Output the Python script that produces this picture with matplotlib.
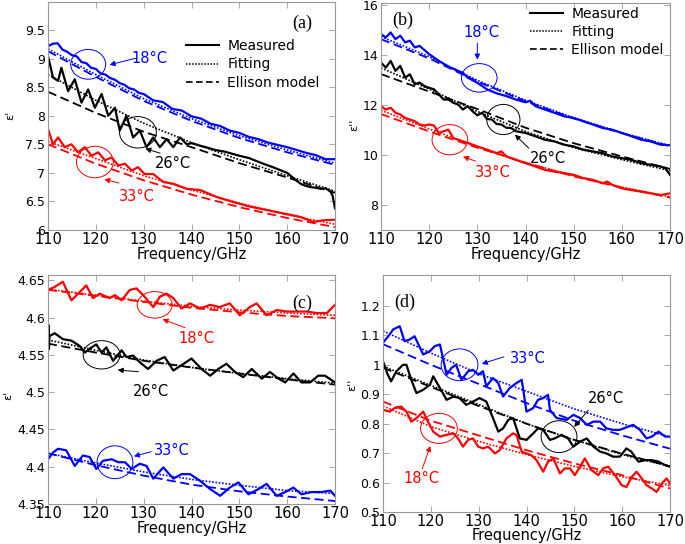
import matplotlib
matplotlib.use('Agg')
import matplotlib.pyplot as plt
from matplotlib.patches import Ellipse

BLUE = '#0000ff'
RED = '#ff0000'
BLACK = '#000000'

fit_freq = [110, 120, 130, 140, 150, 160, 170]
x_ticks = [110, 120, 130, 140, 150, 160, 170]

# ---- (a) real part, sample 1 ----
a_blue_freq = [110, 111, 112, 113, 114, 115, 116, 117, 118, 119, 120, 121, 122, 123, 124, 125, 126, 127, 128,
               129, 130, 132, 134, 136, 138, 140, 142, 144, 146, 148, 150, 152, 154, 156, 158, 160, 162, 164,
               166, 168, 169, 170]
a_blue_meas = [9.22, 9.26, 9.27, 9.16, 9.12, 9.06, 9.04, 8.94, 8.92, 8.84, 8.82, 8.74, 8.72, 8.66, 8.63, 8.57,
               8.54, 8.48, 8.46, 8.40, 8.38, 8.27, 8.24, 8.12, 8.09, 7.99, 7.95, 7.86, 7.82, 7.74, 7.70, 7.63,
               7.59, 7.53, 7.49, 7.45, 7.40, 7.35, 7.31, 7.24, 7.24, 7.24]
a_blue_fit = [9.17, 8.72, 8.30, 7.95, 7.65, 7.40, 7.17]
a_blue_ell = [9.13, 8.68, 8.26, 7.91, 7.61, 7.36, 7.14]

a_black_freq = [110, 111.05, 112.1, 112.8, 114.2, 115.6, 117, 118.4, 119.8, 121.2, 122.6, 124, 125, 126.4, 127.8,
                129.2, 130.6, 132, 133.4, 134.8, 136.2, 137.6, 139, 140, 142, 143, 145, 147, 150, 152, 155, 157,
                160, 161, 162, 163, 164, 165, 166, 167, 168, 169, 169.5, 170]
a_black_meas = [9.04, 8.67, 8.61, 8.84, 8.43, 8.64, 8.23, 8.46, 8.14, 8.38, 8.00, 8.14, 7.74, 8.00, 7.62, 7.74,
                7.45, 7.62, 7.45, 7.59, 7.45, 7.62, 7.50, 7.52, 7.47, 7.45, 7.40, 7.37, 7.30, 7.26, 7.16, 7.10,
                7.00, 6.93, 6.86, 6.80, 6.77, 6.75, 6.74, 6.72, 6.73, 6.68, 6.60, 6.38]
a_black_fit = [8.72, 8.27, 7.87, 7.53, 7.23, 6.95, 6.68]
a_black_ell = [8.42, 8.05, 7.72, 7.45, 7.17, 6.92, 6.65]

a_red_freq = [110, 111.05, 112.1, 113.5, 114.9, 116.3, 117.7, 119.1, 120.5, 121.9, 123.3, 124.7, 126.1, 127.5,
              128.8, 130.2, 132, 134.1, 136.2, 139, 141.8, 145.2, 148.7, 152.2, 155.7, 159.2, 162.7, 165.5,
              167.6, 170]
a_red_meas = [7.77, 7.50, 7.62, 7.45, 7.50, 7.36, 7.45, 7.30, 7.36, 7.22, 7.27, 7.13, 7.16, 7.04, 7.10, 6.98,
              6.98, 6.84, 6.81, 6.72, 6.70, 6.58, 6.49, 6.41, 6.35, 6.29, 6.23, 6.14, 6.17, 6.18]
a_red_fit = [7.55, 7.25, 6.95, 6.70, 6.47, 6.27, 6.10]
a_red_ell = [7.50, 7.16, 6.87, 6.62, 6.40, 6.21, 6.05]

# ---- (b) imaginary part, sample 1 ----
b_blue_freq = [110, 111, 112, 113, 114, 115, 116, 117, 118, 120, 122, 124, 126, 127, 128, 130, 132, 134, 136,
               138, 140, 141, 142, 144, 146, 148, 150, 152, 154, 156, 158, 160, 162, 164, 166, 168, 170]
b_blue_meas = [14.85, 14.72, 14.92, 14.65, 14.79, 14.52, 14.59, 14.32, 14.38, 14.05, 13.78, 13.55, 13.38, 13.30,
               13.11, 12.90, 12.64, 12.48, 12.37, 12.23, 12.12, 12.18, 11.97, 11.83, 11.70, 11.56, 11.49, 11.36,
               11.23, 11.09, 11.02, 10.89, 10.76, 10.62, 10.55, 10.42, 10.40]
b_blue_fit = [14.75, 13.95, 13.00, 12.20, 11.50, 10.90, 10.38]
b_blue_ell = [14.65, 13.88, 12.95, 12.16, 11.47, 10.88, 10.36]

b_black_freq = [110, 111, 112, 113, 114, 115, 116, 117, 118, 119, 120, 121, 122, 123, 124, 125, 126, 127, 128,
                129, 130, 131, 132, 133, 134, 135, 136, 137, 138, 140, 142, 144, 146, 148, 150, 152, 154, 156,
                158, 160, 162, 164, 166, 168, 169, 170]
b_black_meas = [13.71, 13.51, 13.78, 13.38, 13.58, 13.11, 13.24, 12.84, 12.91, 12.77, 12.70, 12.64, 12.44,
                12.23, 12.23, 12.10, 12.03, 11.83, 11.97, 11.76, 11.60, 11.70, 11.45, 11.43, 11.25, 11.23,
                11.10, 11.09, 10.96, 10.89, 10.76, 10.62, 10.55, 10.42, 10.35, 10.22, 10.15, 10.08, 9.95, 9.88,
                9.81, 9.68, 9.61, 9.55, 9.48, 9.21]
b_black_fit = [13.50, 12.65, 11.75, 10.95, 10.30, 9.82, 9.38]
b_black_ell = [13.25, 12.55, 11.85, 11.10, 10.48, 9.95, 9.45]

b_red_freq = [110, 111, 112, 113, 114, 115, 116, 117, 118, 119, 120, 121, 122, 123, 124, 125, 126, 127, 128,
              130, 132, 134, 135, 136, 138, 140, 142, 144, 146, 148, 150, 152, 154, 156, 157, 158, 160, 162,
              164, 166, 168, 170]
b_red_meas = [11.96, 11.83, 11.90, 11.70, 11.63, 11.49, 11.43, 11.36, 11.23, 11.19, 11.23, 11.19, 10.89,
              10.96, 11.02, 10.69, 10.62, 10.55, 10.49, 10.35, 10.22, 10.08, 10.15, 9.95, 9.81, 9.68, 9.55,
              9.41, 9.34, 9.28, 9.21, 9.08, 9.01, 8.87, 8.94, 8.81, 8.67, 8.60, 8.54, 8.47, 8.40, 8.47]
b_red_fit = [11.80, 11.05, 10.35, 9.70, 9.18, 8.72, 8.33]
b_red_ell = [11.65, 10.95, 10.30, 9.70, 9.15, 8.70, 8.30]

# ---- (c) real part, sample 2 ----
c_red_freq = [110, 111.4, 113.1, 114.9, 116.6, 118, 119.4, 120.8, 122.9, 124, 125.4, 127.1, 128.5, 129.9, 132,
              133.4, 134.8, 136.2, 137.9, 139.7, 141.8, 143.9, 145.9, 148, 150.1, 152.2, 153.6, 155.7, 157.8,
              159.9, 161.9, 164, 166.2, 168.3, 170]
c_red_meas = [4.637, 4.641, 4.648, 4.623, 4.634, 4.643, 4.626, 4.632, 4.626, 4.630, 4.623, 4.637, 4.639,
              4.630, 4.614, 4.628, 4.632, 4.626, 4.612, 4.619, 4.612, 4.617, 4.614, 4.619, 4.603, 4.614,
              4.619, 4.603, 4.610, 4.608, 4.608, 4.608, 4.606, 4.606, 4.617]
c_red_fit = [4.638, 4.630, 4.622, 4.615, 4.610, 4.606, 4.603]
c_red_ell = [4.637, 4.629, 4.621, 4.613, 4.607, 4.602, 4.599]

c_black_freq = [110, 110.1, 110.2, 110.3, 111.4, 113.1, 114.9, 116.6, 117.7, 119.1, 120.1, 121.2, 122.2, 123.6,
                125.4, 126.4, 127.8, 129.2, 130.9, 132.7, 134.4, 136.2, 137.9, 140, 142.1, 143.9, 145.6, 147.3,
                149.1, 150.8, 152.6, 154.7, 156.4, 158.2, 159.6, 161.3, 163, 164.8, 166.5, 167.9, 170]
c_black_meas = [4.556, 4.590, 4.558, 4.575, 4.579, 4.571, 4.569, 4.562, 4.553, 4.560, 4.564, 4.553, 4.560,
                4.542, 4.556, 4.547, 4.549, 4.540, 4.531, 4.542, 4.547, 4.529, 4.536, 4.545, 4.531, 4.522,
                4.531, 4.538, 4.527, 4.520, 4.531, 4.518, 4.527, 4.518, 4.513, 4.525, 4.513, 4.513, 4.522,
                4.522, 4.513]
c_black_fit = [4.570, 4.556, 4.543, 4.533, 4.525, 4.518, 4.512]
c_black_ell = [4.565, 4.553, 4.542, 4.533, 4.525, 4.517, 4.510]

c_blue_freq = [110, 111.05, 112.1, 113.8, 115.6, 117.3, 118.7, 120.1, 121.5, 123.3, 124.7, 126.1, 127.5, 129.2,
               130.6, 132, 134.1, 136.2, 137.9, 139.7, 141.8, 143.9, 146, 148, 149.8, 151.9, 154, 155.7, 157.8,
               159.6, 161.3, 163, 165.1, 167.2, 169, 170]
c_blue_meas = [4.410, 4.419, 4.424, 4.422, 4.401, 4.415, 4.413, 4.397, 4.408, 4.410, 4.406, 4.406, 4.397,
               4.404, 4.401, 4.384, 4.399, 4.384, 4.390, 4.390, 4.381, 4.370, 4.361, 4.372, 4.379, 4.363,
               4.370, 4.377, 4.361, 4.366, 4.372, 4.363, 4.366, 4.366, 4.368, 4.361]
c_blue_fit = [4.418, 4.405, 4.393, 4.383, 4.375, 4.368, 4.364]
c_blue_ell = [4.418, 4.402, 4.388, 4.376, 4.367, 4.360, 4.354]

# ---- (d) imaginary part, sample 2 ----
d_blue_freq = [110, 111.4, 112.1, 113.5, 114.5, 115.6, 116.6, 118.4, 119.8, 120.8, 121.9, 123.3, 124.3, 125.3,
               126.4, 127.8, 128.8, 129.9, 130.9, 131.6, 133, 134.1, 135.1, 136.5, 137.9, 139, 140, 141.4,
               142.4, 143.5, 144.5, 144.9, 146.3, 148.4, 149.8, 151.2, 152.6, 154, 155.4, 156.7, 158.1, 159.5,
               161.3, 162.3, 163.7, 165.1, 166.2, 167.6, 169, 170]
d_blue_meas = [1.075, 1.103, 1.120, 1.131, 1.080, 1.086, 1.097, 1.035, 1.046, 1.063, 1.069, 0.966, 0.989, 1.000,
               0.949, 0.978, 0.983, 0.966, 0.978, 0.927, 0.955, 0.938, 0.892, 0.921, 0.938, 0.949, 0.841, 0.853,
               0.881, 0.887, 0.898, 0.847, 0.819, 0.813, 0.830, 0.819, 0.796, 0.807, 0.807, 0.784, 0.779, 0.779,
               0.790, 0.796, 0.779, 0.750, 0.756, 0.773, 0.756, 0.756]
d_blue_fit = [1.115, 1.040, 0.970, 0.910, 0.850, 0.800, 0.755]
d_blue_ell = [1.070, 1.000, 0.935, 0.870, 0.810, 0.760, 0.715]

d_black_freq = [110, 111, 111.7, 112.8, 114.2, 114.9, 115.9, 117, 118.4, 119.8, 120.5, 121.9, 123.3, 124.7, 126,
                127.4, 128.8, 130.2, 131.6, 133, 134.1, 135.1, 136.2, 137.2, 138.6, 140, 141.4, 142.4, 143.5,
                144.9, 145.9, 147.3, 148.7, 149.8, 151.2, 152.6, 154, 155.4, 156.7, 158.1, 159.5, 160.9, 161.9,
                163.4, 164.8, 166.2, 167.6, 169, 170]
d_black_meas = [1.012, 0.966, 0.944, 0.978, 1.000, 1.000, 0.949, 0.904, 0.915, 0.932, 0.961, 0.921, 0.881,
                0.892, 0.887, 0.864, 0.875, 0.887, 0.875, 0.819, 0.773, 0.784, 0.813, 0.819, 0.750, 0.745,
                0.767, 0.784, 0.779, 0.745, 0.750, 0.762, 0.750, 0.722, 0.739, 0.750, 0.722, 0.705, 0.699,
                0.688, 0.688, 0.716, 0.705, 0.671, 0.676, 0.676, 0.671, 0.659, 0.654]
d_black_fit = [0.995, 0.930, 0.865, 0.800, 0.745, 0.695, 0.655]
d_black_ell = [0.990, 0.925, 0.860, 0.800, 0.745, 0.698, 0.655]

d_red_freq = [110, 111.4, 112.4, 113.8, 114.9, 115.9, 117, 118.4, 119.4, 120.5, 121.9, 123.3, 124.7, 125.7,
              126.7, 127.8, 128.8, 129.9, 130.9, 132, 133.4, 134.4, 135.8, 137.2, 137.9, 139, 140, 141, 142.1,
              143.5, 144.5, 145.6, 147, 148, 149.1, 150.1, 151.2, 152.2, 153.6, 155, 156, 157.1, 158.5, 159.9,
              160.9, 162, 163, 164.1, 165.1, 166.2, 167.2, 168.3, 169.3, 170]
d_red_meas = [0.847, 0.841, 0.853, 0.858, 0.841, 0.807, 0.819, 0.841, 0.807, 0.773, 0.756, 0.762, 0.767, 0.750,
              0.722, 0.745, 0.750, 0.722, 0.716, 0.722, 0.699, 0.710, 0.750, 0.767, 0.762, 0.705, 0.699, 0.693,
              0.676, 0.637, 0.671, 0.682, 0.631, 0.648, 0.648, 0.625, 0.654, 0.682, 0.642, 0.625, 0.648, 0.654,
              0.625, 0.591, 0.585, 0.619, 0.637, 0.614, 0.591, 0.580, 0.568, 0.597, 0.614, 0.597]
d_red_fit = [0.860, 0.790, 0.740, 0.695, 0.655, 0.620, 0.590]
d_red_ell = [0.875, 0.810, 0.760, 0.710, 0.665, 0.625, 0.580]

W, H = 685, 544
fig = plt.figure(figsize=(W / 100, H / 100), dpi=100)


def px_axes(left, top, right, bottom):
    return fig.add_axes([left / W, 1 - bottom / H, (right - left) / W, (bottom - top) / H])


def draw_curves(ax, freq, meas, fit, ell, color):
    ax.plot(freq, meas, '-', color=color, lw=1.6)
    ax.plot(fit_freq, fit, ':', color=color, lw=1.2, dashes=(1, 1))
    ax.plot(fit_freq, ell, '--', color=color, lw=1.3, dashes=(5, 2.5))


def mark(ax, center, w, h, color, text, text_xy, start, end):
    ax.add_patch(Ellipse(center, w, h, fill=False, edgecolor=color, lw=0.7))
    ax.annotate('', xy=end, xytext=start,
                arrowprops=dict(arrowstyle='-|>', color=color, lw=0.7, mutation_scale=8))
    ax.text(text_xy[0], text_xy[1], text, color=color, fontsize=10.5, ha='center', va='center')


def style(ax, ylim, yticks, yfmt):
    ax.set_xlim(110, 170)
    ax.set_ylim(*ylim)
    ax.set_xticks(x_ticks)
    ax.set_yticks(yticks)
    ax.set_yticklabels([yfmt(v) for v in yticks], fontsize=9)
    ax.set_xticklabels([str(v) for v in x_ticks], fontsize=10.5)
    ax.tick_params(direction='in', top=True, right=True, length=4, width=0.6,
                   color='#999999', pad=2)
    ax.tick_params(axis='x', pad=1.5)
    for s in ax.spines.values():
        s.set_color('#999999')
        s.set_linewidth(0.8)


def fmt(v):
    s = ('%.2f' % v).rstrip('0').rstrip('.')
    return s


leg_h = [plt.Line2D([], [], color='k', ls='-', lw=1.5),
         plt.Line2D([], [], color='k', ls=':', lw=1.1, dashes=(1, 1)),
         plt.Line2D([], [], color='k', ls='--', lw=1.2, dashes=(4, 2))]
leg_labels = ['Measured', 'Fitting', 'Ellison model']

# (a)
ax = px_axes(48, 1.5, 335, 230)
draw_curves(ax, a_blue_freq, a_blue_meas, a_blue_fit, a_blue_ell, BLUE)
draw_curves(ax, a_black_freq, a_black_meas, a_black_fit, a_black_ell, BLACK)
draw_curves(ax, a_red_freq, a_red_meas, a_red_fit, a_red_ell, RED)
style(ax, (6, 10), [6, 6.5, 7, 7.5, 8, 8.5, 9, 9.5], fmt)
mark(ax, (118.4, 8.9), 7.3, 0.52, BLUE, '18°C', (131.3, 9.0), (129.0, 9.02), (122.3, 8.88))
mark(ax, (128.8, 7.71), 7.7, 0.55, BLACK, '26°C', (136.2, 7.16), (134.0, 7.33), (129.8, 7.44))
mark(ax, (119.8, 7.19), 7.7, 0.55, RED, '33°C', (128.5, 6.58), (125.4, 6.81), (121.2, 6.9))
ax.legend(leg_h, leg_labels, loc='upper left',
          bbox_to_anchor=(0.455, 0.865), frameon=False, fontsize=10, handlelength=2.4,
          handletextpad=0.6, labelspacing=0.3, borderpad=0)
ax.text(0.885, 0.905, '(a)', transform=ax.transAxes, fontsize=13, family='Liberation Serif',
        ha='center', va='center')
ax.set_xlabel('Frequency/GHz', fontsize=10.5, labelpad=0)

# (b)
ax = px_axes(381, 3, 670, 230)
draw_curves(ax, b_blue_freq, b_blue_meas, b_blue_fit, b_blue_ell, BLUE)
draw_curves(ax, b_black_freq, b_black_meas, b_black_fit, b_black_ell, BLACK)
draw_curves(ax, b_red_freq, b_red_meas, b_red_fit, b_red_ell, RED)
style(ax, (7, 16.1), [8, 10, 12, 14, 16], fmt)
mark(ax, (130.4, 13.1), 7.4, 1.14, BLUE, '18°C', (130.9, 14.92), (130.0, 14.6), (130.0, 13.72))
mark(ax, (135.4, 11.43), 6.9, 1.21, BLACK, '26°C', (144.7, 9.88), (141.1, 10.2), (137.4, 10.9))
mark(ax, (124.3, 10.62), 7.4, 1.21, RED, '33°C', (133.3, 9.3), (130.2, 9.72), (126.5, 9.98))
ax.legend(leg_h, leg_labels, loc='upper left',
          bbox_to_anchor=(0.49, 1.015), frameon=False, fontsize=10, handlelength=2.4,
          handletextpad=0.6, labelspacing=0.3, borderpad=0)
ax.text(0.075, 0.925, '(b)', transform=ax.transAxes, fontsize=13, family='Liberation Serif',
        ha='center', va='center')
ax.set_xlabel('Frequency/GHz', fontsize=10.5, labelpad=0)

# (c)
ax = px_axes(48, 275, 335, 504)
draw_curves(ax, c_red_freq, c_red_meas, c_red_fit, c_red_ell, RED)
draw_curves(ax, c_black_freq, c_black_meas, c_black_fit, c_black_ell, BLACK)
draw_curves(ax, c_blue_freq, c_blue_meas, c_blue_fit, c_blue_ell, BLUE)
style(ax, (4.35, 4.657), [4.35, 4.4, 4.45, 4.5, 4.55, 4.6, 4.65], fmt)
mark(ax, (132.3, 4.617), 7.3, 0.0356, RED, '18°C', (141.1, 4.572), (139.2, 4.585), (133.4, 4.599))
mark(ax, (121.2, 4.55), 7.7, 0.038, BLACK, '26°C', (131.6, 4.501), (129.5, 4.527), (124.0, 4.53))
mark(ax, (124.0, 4.406), 7.5, 0.044, BLUE, '33°C', (135.8, 4.422), (132.1, 4.421), (127.4, 4.413))
ax.text(0.885, 0.875, '(c)', transform=ax.transAxes, fontsize=13, family='Liberation Serif',
        ha='center', va='center')
ax.set_xlabel('Frequency/GHz', fontsize=10.5, labelpad=0)

# (d)
ax = px_axes(383, 275, 670, 512)
draw_curves(ax, d_blue_freq, d_blue_meas, d_blue_fit, d_blue_ell, BLUE)
draw_curves(ax, d_black_freq, d_black_meas, d_black_fit, d_black_ell, BLACK)
draw_curves(ax, d_red_freq, d_red_meas, d_red_fit, d_red_ell, RED)
style(ax, (0.5, 1.305), [0.5, 0.6, 0.7, 0.8, 0.9, 1, 1.1, 1.2], fmt)
mark(ax, (126.0, 1.0), 7.7, 0.108, BLUE, '33°C', (140.3, 1.023), (135.8, 1.03), (130.1, 1.0))
mark(ax, (146.8, 0.756), 7.5, 0.108, BLACK, '26°C', (156.7, 0.887), (153.3, 0.853), (149.6, 0.782))
mark(ax, (121.7, 0.784), 7.7, 0.102, RED, '18°C', (118.0, 0.614), (118.0, 0.638), (120.1, 0.733))
ax.text(0.075, 0.885, '(d)', transform=ax.transAxes, fontsize=13, family='Liberation Serif',
        ha='center', va='center')
ax.set_xlabel('Frequency/GHz', fontsize=10.5, labelpad=-1)

# y labels
fig.text(10 / W, 1 - 115 / H, "ε'", rotation=90, fontsize=8, ha='center', va='center')
fig.text(354 / W, 1 - 125 / H, "ε''", rotation=90, fontsize=8, ha='center', va='center')
fig.text(8 / W, 1 - 395 / H, "ε'", rotation=90, fontsize=8, ha='center', va='center')
fig.text(352 / W, 1 - 385 / H, "ε''", rotation=90, fontsize=8, ha='center', va='center')

fig.savefig('out.png', dpi=100)
